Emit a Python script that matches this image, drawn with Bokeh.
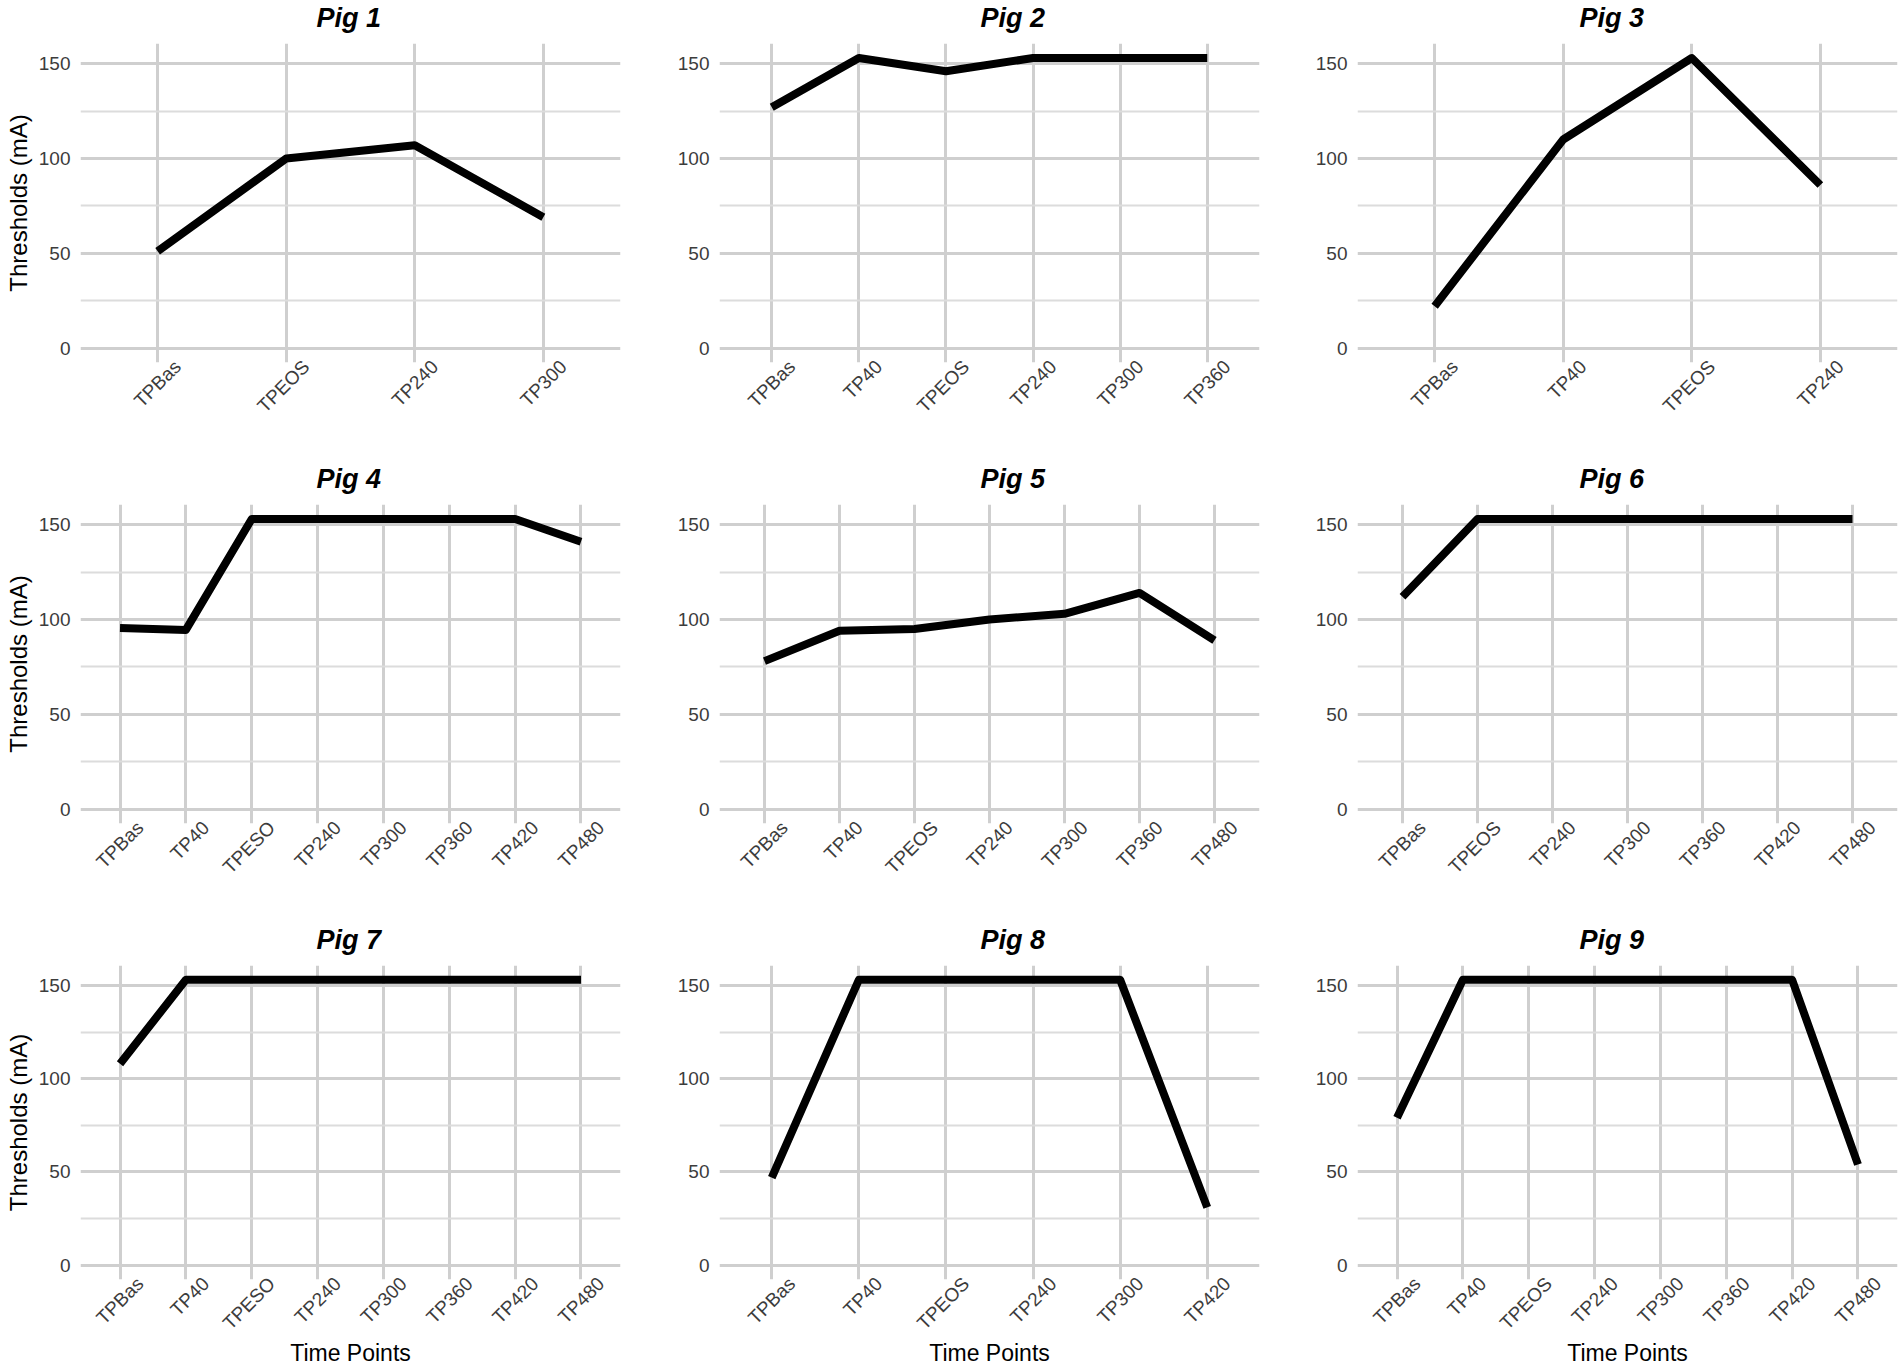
import math
from bokeh.plotting import figure
from bokeh.models import Range1d, FixedTicker, Grid, LinearAxis, Title
from bokeh.layouts import column, row
from bokeh.embed import file_html
from bokeh.resources import INLINE

# ---------------- data ----------------
pig1_tp = ["TPBas", "TPEOS", "TP240", "TP300"]
pig1_thr = [51, 100, 107, 69]

pig2_tp = ["TPBas", "TP40", "TPEOS", "TP240", "TP300", "TP360"]
pig2_thr = [127, 153, 146, 153, 153, 153]

pig3_tp = ["TPBas", "TP40", "TPEOS", "TP240"]
pig3_thr = [22, 110, 153, 86]

pig4_tp = ["TPBas", "TP40", "TPESO", "TP240", "TP300", "TP360", "TP420", "TP480"]
pig4_thr = [95.5, 94.5, 153, 153, 153, 153, 153, 141]

pig5_tp = ["TPBas", "TP40", "TPEOS", "TP240", "TP300", "TP360", "TP480"]
pig5_thr = [78, 94, 95, 100, 103, 114, 89]

pig6_tp = ["TPBas", "TPEOS", "TP240", "TP300", "TP360", "TP420", "TP480"]
pig6_thr = [112, 153, 153, 153, 153, 153, 153]

pig7_tp = ["TPBas", "TP40", "TPESO", "TP240", "TP300", "TP360", "TP420", "TP480"]
pig7_thr = [108, 153, 153, 153, 153, 153, 153, 153]

pig8_tp = ["TPBas", "TP40", "TPEOS", "TP240", "TP300", "TP420"]
pig8_thr = [47, 153, 153, 153, 153, 31]

pig9_tp = ["TPBas", "TP40", "TPEOS", "TP240", "TP300", "TP360", "TP420", "TP480"]
pig9_thr = [79, 153, 153, 153, 153, 153, 153, 54]

titles = ["Pig 1", "Pig 2", "Pig 3", "Pig 4", "Pig 5", "Pig 6", "Pig 7", "Pig 8", "Pig 9"]
y_ticks = [0, 50, 100, 150]
y_minor = [25, 75, 125]
y_label = "Thresholds (mA)"
x_label = "Time Points"

panels = [
    (pig1_tp, pig1_thr), (pig2_tp, pig2_thr), (pig3_tp, pig3_thr),
    (pig4_tp, pig4_thr), (pig5_tp, pig5_thr), (pig6_tp, pig6_thr),
    (pig7_tp, pig7_thr), (pig8_tp, pig8_thr), (pig9_tp, pig9_thr),
]

# ---------------- layout / style ----------------
FONT = "Liberation Sans"
Y0, Y1 = -7.65, 160.65
FRAME_H = 319
FRAME_W = 540
# (figure width, left border, title x offset from frame centre)
col_specs = [(659, 80, -2), (638, 60, 23), (603, 60, -16)]
# (figure height, top border)
row_specs = [(461, 43), (461, 43), (446, 43)]

MAJOR = "#CFCFCF"
MINOR = "#DCDCDC"
TICK_COLOR = "#3C3C3C"
LABEL_SHIFT = 20      # px: rotated labels are centred under their tick
TITLE_W = 64          # approx. rendered width of "Pig N"


def make_panel(i, name, tps, thr):
    r, c = divmod(i, 3)
    fw, bl, toff = col_specs[c]
    fh, bt = row_specs[r]
    n = len(tps)
    xs = list(range(1, n + 1))
    x0, x1 = 0.4, n + 0.6
    ppx = FRAME_W / (x1 - x0)
    shift = LABEL_SHIFT / ppx

    p = figure(width=fw, height=fh, output_backend="svg", toolbar_location=None, tools="",
               x_range=Range1d(x0, x1), y_range=Range1d(Y0, Y1),
               x_axis_location=None,
               min_border_left=bl, min_border_right=fw - bl - FRAME_W,
               min_border_top=bt, min_border_bottom=fh - bt - FRAME_H)
    p.outline_line_color = None
    p.background_fill_color = "white"
    p.border_fill_color = "white"

    # title
    p.title = Title(text=name, align="left", offset=FRAME_W / 2 + toff - TITLE_W / 2,
                    vertical_align="top",
                    padding=dict(left=0, right=0, top=0, bottom=8),
                    text_font=FONT, text_font_size="27px", text_font_style="bold italic",
                    text_color="black", standoff=2)

    # grids
    p.center = []
    p.add_layout(Grid(dimension=0, ticker=FixedTicker(ticks=xs),
                      grid_line_color=MAJOR, grid_line_width=3))
    p.add_layout(Grid(dimension=1, ticker=FixedTicker(ticks=y_ticks, minor_ticks=y_minor),
                      grid_line_color=MAJOR, grid_line_width=3,
                      minor_grid_line_color=MINOR, minor_grid_line_width=1.8))

    # y axis
    ax = p.yaxis[0]
    ax.ticker = FixedTicker(ticks=y_ticks)
    ax.axis_line_color = None
    ax.major_tick_line_color = None
    ax.minor_tick_line_color = None
    ax.major_tick_out = 0
    ax.major_tick_in = 0
    ax.major_label_standoff = 10
    ax.major_label_text_font = FONT
    ax.major_label_text_font_size = "19px"
    ax.major_label_text_color = TICK_COLOR
    if c == 0:
        ax.axis_label = y_label
        ax.axis_label_text_font = FONT
        ax.axis_label_text_font_size = "24px"
        ax.axis_label_text_font_style = "normal"
        ax.axis_label_text_color = "black"
        ax.axis_label_standoff = 4

    # x axis: categories, rotated 45 degrees; its range is shifted so each
    # right-aligned label ends up centred under its category
    p.extra_x_ranges = {"lbl": Range1d(x0 - shift, x1 - shift)}
    xa = LinearAxis(x_range_name="lbl", ticker=FixedTicker(ticks=xs),
                    major_label_overrides={x: t for x, t in zip(xs, tps)},
                    major_label_orientation=math.pi / 4)
    xa.axis_line_color = None
    xa.major_tick_line_color = None
    xa.minor_tick_line_color = None
    xa.major_tick_out = 0
    xa.major_tick_in = 0
    xa.major_label_standoff = 1
    xa.major_label_text_font = FONT
    xa.major_label_text_font_size = "19px"
    xa.major_label_text_color = TICK_COLOR
    if r == 2:
        xa.axis_label = x_label
        xa.axis_label_text_font = FONT
        xa.axis_label_text_font_size = "23px"
        xa.axis_label_text_font_style = "normal"
        xa.axis_label_text_color = "black"
        xa.axis_label_standoff = -4
    p.add_layout(xa, "below")

    # data line
    p.line(x=xs, y=thr, line_width=8, line_color="black", line_join="round")
    return p


figs = [make_panel(i, titles[i], tps, thr) for i, (tps, thr) in enumerate(panels)]
layout = column(row(figs[0:3]), row(figs[3:6]), row(figs[6:9]))

open("out.html", "w").write(file_html(layout, INLINE))
